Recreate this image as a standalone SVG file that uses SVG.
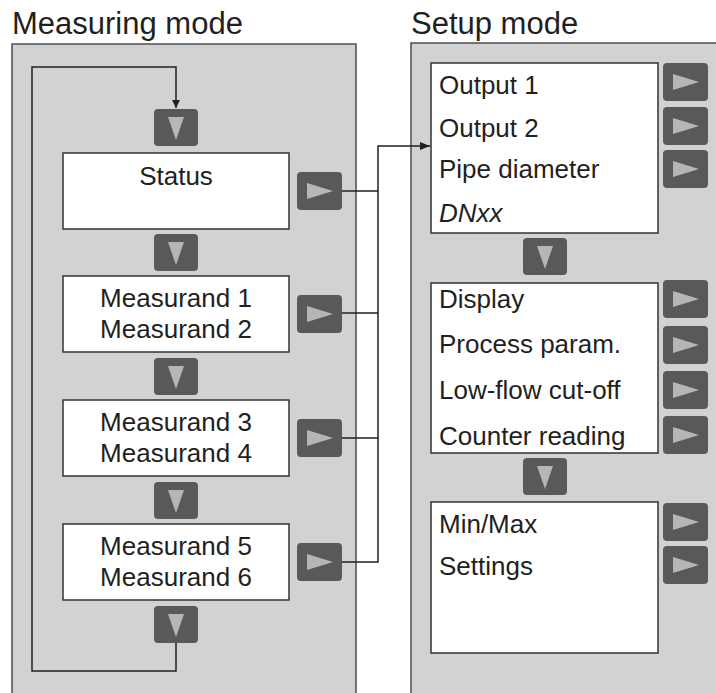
<svg xmlns="http://www.w3.org/2000/svg" width="716" height="693" viewBox="0 0 716 693">
<style>
.title{font-family:"Liberation Sans",Arial,sans-serif;font-size:31px;fill:#231f20}
.t{font-family:"Liberation Sans",Arial,sans-serif;font-size:26px;fill:#231f20}
.tc{font-family:"Liberation Sans",Arial,sans-serif;font-size:26px;fill:#231f20;text-anchor:middle}
.panel{fill:#d1d2d4;stroke:#4d4d4f;stroke-width:1.5}
.box{fill:#ffffff;stroke:#333335;stroke-width:1.5}
.btn{fill:#58595b}
.tri{fill:#b5b6b8}
.ln{fill:none;stroke:#231f20;stroke-width:1.5}
</style>
<defs>
<marker id="ah" viewBox="0 0 10 10" refX="10" refY="5" markerWidth="8" markerHeight="8" markerUnits="userSpaceOnUse" orient="auto">
<path d="M0,0 L10,5 L0,10 z" fill="#231f20"/>
</marker>
<marker id="ah2" viewBox="0 0 10 10" refX="10" refY="5" markerWidth="10" markerHeight="8" markerUnits="userSpaceOnUse" orient="auto" preserveAspectRatio="none">
<path d="M0,0 L10,5 L0,10 z" fill="#231f20"/>
</marker>
<g id="down"><rect x="0" y="0" width="44" height="37" rx="4" class="btn"/><path d="M14,8 L30,8 L22,31 z" class="tri"/></g>
<g id="right"><rect x="0" y="0" width="45" height="38" rx="4" class="btn"/><path d="M10,11 L36,19 L10,27 z" class="tri"/></g>
</defs>

<text class="title" x="12" y="34">Measuring mode</text>
<text class="title" x="411" y="34">Setup mode</text>

<rect class="panel" x="12" y="44" width="344" height="660"/>
<rect class="panel" x="411" y="43" width="310" height="660"/>

<g id="connectors">
<path class="ln" d="M176,643 L176,671 L32,671 L32,67 L176,67 L176,108" marker-end="url(#ah)"/>
<path class="ln" d="M342,191 L378,191"/>
<path class="ln" d="M342,313 L378,313"/>
<path class="ln" d="M342,438 L378,438"/>
<path class="ln" d="M342,562 L378,562 L378,146 L430,146" marker-end="url(#ah2)"/>
</g>

<g id="status">
<rect class="box" x="63" y="153" width="226" height="76"/>
<text class="tc" x="176" y="185">Status</text>
</g>
<g id="measurand12">
<rect class="box" x="63" y="276" width="226" height="76"/>
<text class="tc" x="176" y="307">Measurand 1</text>
<text class="tc" x="176" y="338">Measurand 2</text>
</g>
<g id="measurand34">
<rect class="box" x="63" y="400" width="226" height="76"/>
<text class="tc" x="176" y="431">Measurand 3</text>
<text class="tc" x="176" y="462">Measurand 4</text>
</g>
<g id="measurand56">
<rect class="box" x="63" y="524" width="226" height="76"/>
<text class="tc" x="176" y="555">Measurand 5</text>
<text class="tc" x="176" y="586">Measurand 6</text>
</g>

<g id="left-buttons">
<use href="#down" x="154" y="109"/>
<use href="#down" x="154" y="234"/>
<use href="#down" x="154" y="358"/>
<use href="#down" x="154" y="482"/>
<use href="#down" x="154" y="606"/>
<use href="#right" x="297" y="172"/>
<use href="#right" x="297" y="295"/>
<use href="#right" x="297" y="419"/>
<use href="#right" x="297" y="543"/>
</g>

<g id="setup1">
<rect class="box" x="431" y="63" width="227" height="170"/>
<text class="t" x="439" y="94">Output 1</text>
<text class="t" x="439" y="137">Output 2</text>
<text class="t" x="439" y="178">Pipe diameter</text>
<text class="t" x="439" y="222" font-style="italic">DNxx</text>
</g>
<g id="setup2">
<rect class="box" x="431" y="283" width="227" height="170"/>
<text class="t" x="439" y="308">Display</text>
<text class="t" x="439" y="353">Process param.</text>
<text class="t" x="439" y="399">Low-flow cut-off</text>
<text class="t" x="439" y="445">Counter reading</text>
</g>
<g id="setup3">
<rect class="box" x="431" y="502" width="227" height="151"/>
<text class="t" x="439" y="533">Min/Max</text>
<text class="t" x="439" y="575">Settings</text>
</g>

<g id="right-buttons">
<use href="#right" x="663" y="63"/>
<use href="#right" x="663" y="107"/>
<use href="#right" x="663" y="150"/>
<use href="#down" x="523" y="238"/>
<use href="#right" x="663" y="280"/>
<use href="#right" x="663" y="326"/>
<use href="#right" x="663" y="371"/>
<use href="#right" x="663" y="416"/>
<use href="#down" x="523" y="458"/>
<use href="#right" x="663" y="503"/>
<use href="#right" x="663" y="546"/>
</g>
</svg>
